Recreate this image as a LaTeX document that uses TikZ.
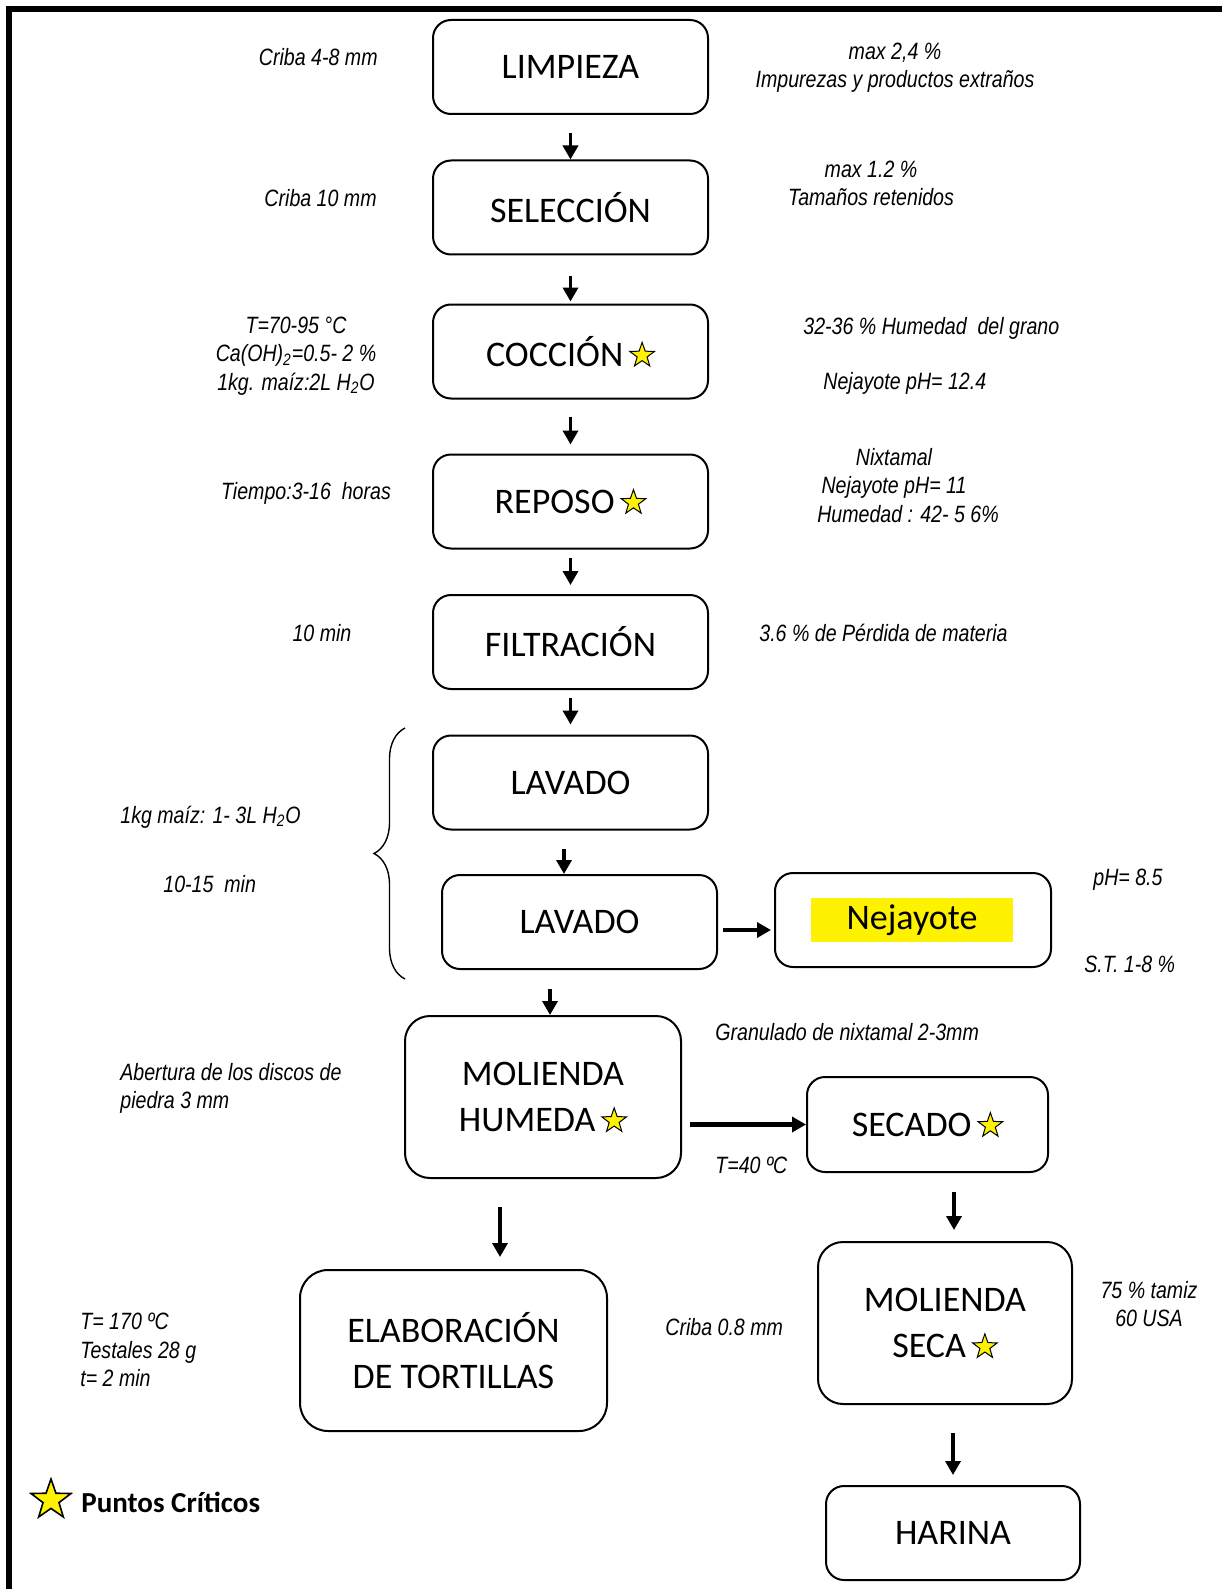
\documentclass[tikz,border=0pt]{standalone}
\usepackage{fontspec}
\setmainfont{Carlito}
\newfontfamily\notafont[FakeStretch=0.83]{Liberation Sans}
\usetikzlibrary{positioning,shapes.geometric,arrows.meta,decorations.pathreplacing}

\tikzset{
  paso/.style={draw, line width=1pt, rounded corners=9pt, minimum width=137.5pt,
    minimum height=47pt, align=center, font=\fontsize{18}{23.3}\selectfont},
  nota/.style={font=\notafont\itshape\fontsize{11.8}{14.2}\selectfont, align=center, inner sep=0pt},
  flecha/.style={line width=1.8pt, -{Triangle[width=7.5pt,length=7pt]}},
  critico/.style={star, star points=5, star point ratio=2.5, draw, line width=0.5pt,
    sharp corners, fill=yellow, inner sep=0pt}
}
\newcommand{\estrella}{\hspace{3pt}\tikz[baseline=-5.5pt, sharp corners, line width=0.5pt]\node[critico, minimum size=13pt]{};}

\begin{document}
\begin{tikzpicture}[x=0.5pt, y=-0.5pt]
    \useasboundingbox (0,0) rectangle (1222,1589);
    % marco
    \draw[line width=3pt] (9,1589) -- (9,9) -- (1222,9);

    % columna principal
    \foreach \nombre/\texto/\y in {limp/LIMPIEZA/67, sel/SELECCIÓN/207.5, coc/COCCIÓN\estrella/351.5,
        rep/REPOSO\estrella/501.5, fil/FILTRACIÓN/642, lav/LAVADO/782.5} {
        \node[paso] (\nombre) at (570.5,\y) {\texto};
    }
    \node[paso] (lav2) at (579.5,922) {LAVADO};
    \node[paso, minimum width=138pt] (nej) at (913,920) {};
    \node[fill=yellow, minimum width=101pt, minimum height=22pt, inner sep=0pt,
        font=\fontsize{18}{22}\selectfont] (nejtxt) at (912,920) {Nejayote};
    \node[paso, rounded corners=12.5pt, minimum width=138pt, minimum height=81pt] (molh) at (543,1097) {MOLIENDA\\HUMEDA\estrella};
    \node[paso, minimum width=120.5pt, minimum height=47.5pt] (sec) at (927.5,1124.5) {SECADO\estrella};
    \node[paso, rounded corners=14pt, minimum width=153.5pt, minimum height=80.5pt] (elab) at (453.5,1350.5) {ELABORACIÓN\\DE TORTILLAS};
    \node[paso, rounded corners=12.5pt, minimum width=127pt, minimum height=81pt] (mols) at (945,1323) {MOLIENDA\\SECA\estrella};
    \node[paso, minimum width=127pt] (har) at (953,1533) {HARINA};

    % flechas
    \draw[flecha, shorten <=9pt] (limp) -- (sel);
    \draw[flecha, shorten <=10pt, shorten >=1pt] (sel) -- (coc);
    \draw[flecha, shorten <=8.5pt, shorten >=4.5pt] (coc) -- (rep);
    \draw[flecha, shorten <=4pt, shorten >=4.5pt] (rep) -- (fil);
    \draw[flecha, shorten <=4pt, shorten >=5pt] (fil) -- (lav);
    \draw[flecha, shorten <=9pt] ([xshift=-3.25pt]lav.south) -- ([xshift=-3.25pt]lav.south |- lav2.north);
    \draw[flecha, line width=2.3pt, shorten <=2.5pt, shorten >=1.5pt] ([yshift=-4pt]lav2.east) -- ([yshift=-4pt]lav2.east -| nej.west);
    \draw[flecha, shorten <=9.5pt] ([xshift=3.5pt]molh.north |- lav2.south) -- ([xshift=3.5pt]molh.north);
    \draw[flecha, line width=2.3pt, shorten <=4pt] (molh.east |- sec.west) -- (sec.west);
    \draw[flecha, shorten <=14pt, shorten >=6pt] ([xshift=-21.5pt]molh.south) -- ([xshift=-21.5pt]molh.south |- elab.north);
    \draw[flecha, shorten <=9.5pt, shorten >=5.5pt] ([xshift=4.5pt]mols.north |- sec.south) -- ([xshift=4.5pt]mols.north);
    \draw[flecha, shorten <=14pt, shorten >=5pt] (har.north |- mols.south) -- (har.north);

    % llave de los lavados
    \draw[line width=0.7pt, decorate, decoration={brace, amplitude=15.5pt}] (405,979) -- (405,728);

    % notas
    \node[nota, anchor=east] (nlimp) at (378,57) {Criba 4-8 mm};
    \node[nota] (nlimp2) at (895,68) {max 2,4 \%\\Impurezas y productos extraños};
    \node[nota, anchor=east] (nsel) at (377,198) {Criba 10 mm};
    \node[nota] (nsel2) at (871,183.5) {max 1.2 \%\\Tamaños retenidos};
    \node[nota] (ncoc) at (296,356) {T=70-95 °C\\Ca(OH)\textsubscript{2}=0.5- 2 \%\\1kg. maíz:2L H\textsubscript{2}O};
    \node[nota, anchor=west] (ncoc2) at (803,328) {32-36 \% Humedad\ \ del grano};
    \node[nota, anchor=west] (ncoc3) at (823,383) {Nejayote pH= 12.4};
    \node[nota] (nrep) at (306,493) {Tiempo:3-16\ \ horas};
    \node[nota] (nrep2) at (894,485.5) {Nixtamal\\Nejayote pH= 11\\\hspace*{14pt}Humedad : 42- 5 6\%};
    \node[nota] (nfil) at (322,633) {10 min};
    \node[nota, anchor=west] (nfil2) at (759,633) {3.6 \% de Pérdida de materia};
    \node[nota, anchor=west] (nlav) at (120,817) {1kg maíz: 1- 3L H\textsubscript{2}O};
    \node[nota, anchor=west] (nlav2) at (163,884) {10-15\ \ min};
    \node[nota, anchor=west] (nnej) at (1093,880) {pH= 8.5};
    \node[nota, anchor=west] (nnej2) at (1084,964) {S.T. 1-8 \%};
    \node[nota, anchor=west] (nmolh) at (715,1032) {Granulado de nixtamal 2-3mm};
    \node[nota, anchor=west, align=left] (nmolh2) at (120,1088.5) {Abertura de los discos de\\piedra 3 mm};
    \node[nota, anchor=west] (nsec) at (715,1165) {T=40 ºC};
    \node[nota, anchor=west, align=left] (nelab) at (80,1350) {T= 170 ºC\\Testales 28 g\\t= 2 min};
    \node[nota, anchor=west] (nmols) at (665,1327) {Criba 0.8 mm};
    \node[nota] (nmols2) at (1149,1304) {75 \% tamiz\\60 USA};

    % leyenda
    \node[critico, minimum size=21pt, line width=0.8pt] (ley) at (51,1500) {};
    \node[anchor=west, inner sep=0pt, font=\bfseries\fontsize{14.5}{17}\selectfont] (leytxt) at (81,1502) {Puntos Críticos};
\end{tikzpicture}
\end{document}
